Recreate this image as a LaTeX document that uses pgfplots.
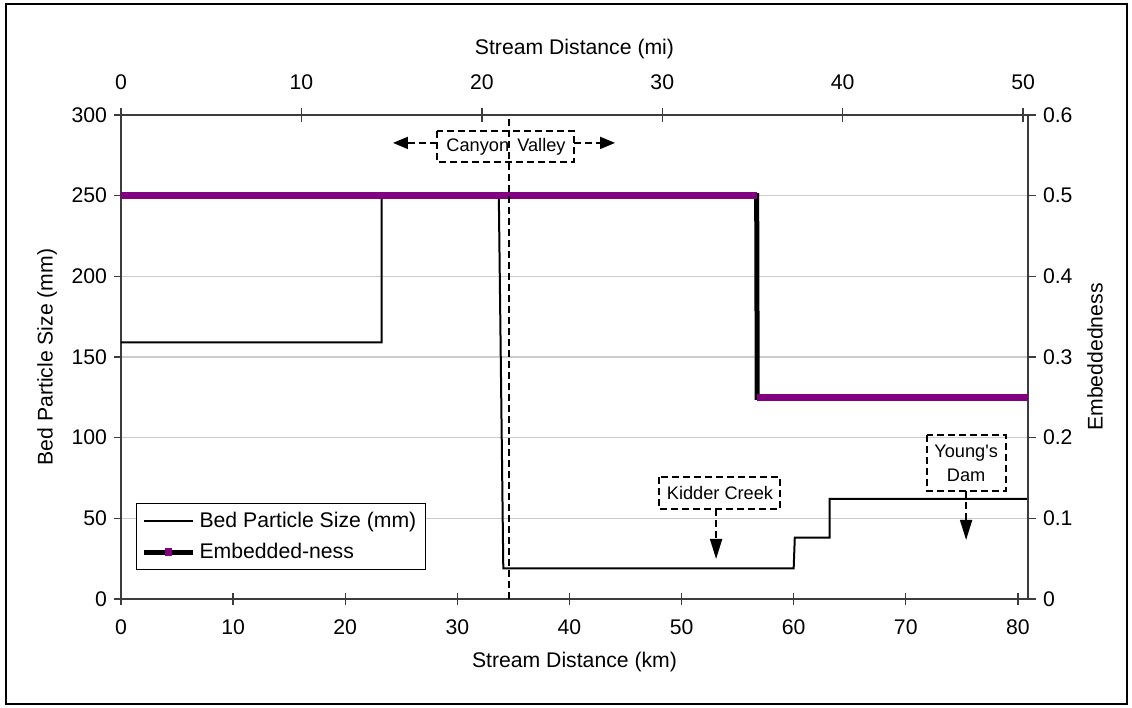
\documentclass[border=0pt]{standalone}
\usepackage{pgfplots}
\pgfplotsset{compat=1.18}
\usepackage{fontspec}
\setmainfont{Liberation Sans}
\usetikzlibrary{arrows.meta}

\definecolor{embed}{RGB}{128,0,128}
\definecolor{axisgray}{RGB}{60,60,60}
\newcommand\chartfont{\fontsize{10.6pt}{12.7pt}\selectfont}
\newcommand\notefont{\fontsize{9.1pt}{11.6pt}\selectfont}

\pgfplotsset{
  chartbase/.style={
    scale only axis, width=453.5pt, height=242pt,
    at={(0pt,0pt)}, anchor=south west,
    xmin=0, xmax=80.9,
    font=\chartfont,
    every tick label/.append style={font=\chartfont},
    label style={font=\chartfont},
    /pgf/number format/assume math mode=true,
    axis line style={axisgray, line width=0.9pt},
    tick style={axisgray, line width=0.7pt},
  },
}
\tikzset{
  ann/.style={black, line width=0.9pt, dash pattern=on 3.5pt off 2pt},
  harrow/.style={ann, -{Triangle[length=7.5pt,width=6pt]}},
  varrow/.style={ann, -{Triangle[length=10pt,width=6pt]}},
}

% bed particle size (mm) along the stream, step profile
\pgfplotstableread{
km    mm
0     159
23.25 159
23.25 250
33.7  250
34.1  19
60.0  19
60.1  38
63.2  38
63.2  62
80.9  62
}\bedsize

\begin{document}
\begin{tikzpicture}
\path[use as bounding box] (-60.5pt,-54.5pt) rectangle (505.5pt,299.5pt);
\draw[line width=0.6pt] (-57.5pt,-52.5pt) rectangle (503pt,297.5pt);

% left axis: bed particle size, bottom axis in km
\begin{axis}[chartbase,
  axis x line*=bottom, axis y line*=left,
  ymin=0, ymax=300, ytick={0,50,...,300},
  ymajorgrids, grid style={gray!40, line width=0.6pt},
  tick align=outside, major tick length=3.5pt,
  xtick=\empty,
  extra x ticks={0,10,...,80},
  extra x tick style={tick align=center, major tick length=6pt},
  xticklabel style={yshift=-4pt},
  minor xtick={2,4,6,8,12,14,16,18,22,24,26,28,32,34,36,38,42,44,46,48,52,54,56,58,62,64,66,68,72,74,76,78},
  minor tick length=2.25pt, minor x tick style={yshift=2.25pt},
  xlabel={Stream Distance (km)}, ylabel={Bed Particle Size (mm)},
  xlabel style={at={(axis description cs:0.5,-0.13)}, anchor=center},
  ylabel style={at={(axis description cs:-0.0815,0.5)}, anchor=center},
]
\addplot[black, line width=1pt] table[x=km, y=mm] {\bedsize};

\draw[ann] (axis cs:28.19,290.1) rectangle (axis cs:40.41,270.9);
\node[font=\notefont, inner sep=0pt] at (axis cs:34.34,280.5) {Canyon\hspace{0.45em}Valley};
\draw[harrow] (axis cs:28.19,282.7) -- (axis cs:24.26,282.7);
\draw[harrow] (axis cs:40.41,282.7) -- (axis cs:44.07,282.7);

\draw[ann] (axis cs:47.99,75.6) rectangle (axis cs:58.79,55.8);
\node[font=\notefont, inner sep=0pt] at (axis cs:53.43,65.7) {Kidder Creek};
\draw[varrow] (axis cs:53.08,55.8) -- (axis cs:53.08,24.8);

\draw[ann] (axis cs:71.90,101.7) rectangle (axis cs:78.95,66.9);
\node[font=\notefont, inner sep=0pt, align=center] at (axis cs:75.38,84.3) {Young\textquotesingle s\\[0.3pt]Dam};
\draw[varrow] (axis cs:75.38,66.9) -- (axis cs:75.38,36.6);
\end{axis}

% right axis: embeddedness
\begin{axis}[chartbase,
  axis x line=none, axis y line*=right,
  ymin=0, ymax=0.6, ytick={0,0.1,0.2,0.3,0.4,0.5,0.6},
  tick align=outside, major tick length=4pt,
  yticklabel style={/pgf/number format/fixed, /pgf/number format/precision=1},
  ylabel={Embeddedness},
  ylabel style={at={(axis description cs:1.0739,0.5)}, anchor=center},
  legend style={at={(0.0165,0.06)}, anchor=south west, draw=black, line width=0.6pt,
    fill=white, font=\chartfont, inner xsep=2.5pt, inner ysep=2pt, row sep=2.5pt},
  legend cell align=left,
]
\addplot[black, line width=2.5pt, forget plot] coordinates {(0,0.5) (56.7,0.5) (56.75,0.25) (80.9,0.25)};
\addplot[embed, line width=3.5pt, unbounded coords=jump, forget plot]
  coordinates {(0,0.5) (56.7,0.5) (56.7,nan) (56.75,0.25) (80.9,0.25)};
\draw[ann] (axis cs:34.6,0) -- (axis cs:34.6,0.6);

\addlegendimage{legend image code/.code={\draw[black, line width=1pt] (0pt,0pt) -- (24.5pt,0pt);}}
\addlegendentry{Bed Particle Size (mm)}
\addlegendimage{legend image code/.code={\draw[black, line width=2.5pt] (0pt,0pt) -- (24.5pt,0pt);
  \fill[embed] (10.75pt,-1.75pt) rectangle (13.75pt,1.75pt);}}
\addlegendentry{Embedded-ness}
\end{axis}

% top axis: stream distance in miles
\begin{axis}[chartbase,
  xmin=0, xmax=50.27, ymin=0, ymax=1,
  axis x line*=top, axis y line=none,
  xtick={0,10,...,50}, tick align=center, major tick length=6.5pt,
  xticklabel style={yshift=6pt},
  xlabel={Stream Distance (mi)},
  xlabel style={at={(axis description cs:0.5,1.1363)}, anchor=center},
]
\addplot[draw=none] coordinates {(0,0)};
\end{axis}
\end{tikzpicture}
\end{document}
